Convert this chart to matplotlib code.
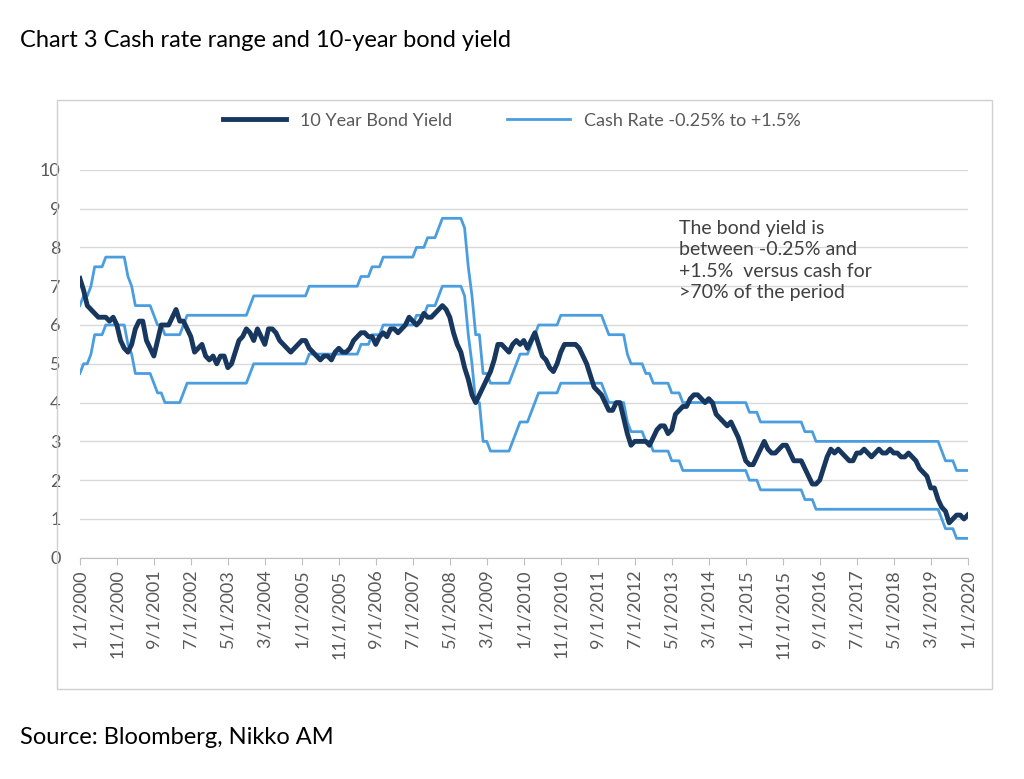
import numpy as np
import pandas as pd
import matplotlib.pyplot as plt
from matplotlib.patches import Rectangle

plt.rcParams['font.family'] = ['Lato', 'DejaVu Sans']

# RBA cash rate: date of change -> new level (%)
cash_dates = ["2000-01-01", "2000-02-01", "2000-04-01", "2000-05-01", "2000-08-01",
              "2001-02-01", "2001-03-01", "2001-04-01", "2001-09-01", "2001-10-01", "2001-12-01",
              "2002-05-01", "2002-06-01", "2003-11-01", "2003-12-01", "2005-03-01",
              "2006-05-01", "2006-08-01", "2006-11-01", "2007-08-01", "2007-11-01",
              "2008-02-01", "2008-03-01", "2008-09-01", "2008-10-01", "2008-11-01", "2008-12-01",
              "2009-02-01", "2009-04-01", "2009-10-01", "2009-11-01", "2009-12-01",
              "2010-03-01", "2010-04-01", "2010-05-01", "2010-11-01", "2011-11-01", "2011-12-01",
              "2012-05-01", "2012-06-01", "2012-10-01", "2012-12-01", "2013-05-01", "2013-08-01",
              "2015-02-01", "2015-05-01", "2016-05-01", "2016-08-01", "2019-06-01",
              "2019-07-01", "2019-10-01"]
cash_levels = [5.0, 5.25, 5.5, 6.0, 6.25,
               5.75, 5.5, 5.0, 4.75, 4.5, 4.25,
               4.5, 4.75, 5.0, 5.25, 5.5,
               5.75, 6.0, 6.25, 6.5, 6.75,
               7.0, 7.25, 7.0, 6.0, 5.25, 4.25,
               3.25, 3.0, 3.25, 3.5, 3.75,
               4.0, 4.25, 4.5, 4.75, 4.5, 4.25,
               3.75, 3.5, 3.25, 3.0, 2.75, 2.5,
               2.25, 2.0, 1.75, 1.5, 1.25,
               1.0, 0.75]

# 10 year bond yield, monthly Jan 2000 - Jan 2020
bond_yield = [
    7.2, 6.9, 6.5, 6.4, 6.3, 6.2, 6.2, 6.2, 6.1, 6.2, 6.0, 5.6,
    5.4, 5.3, 5.5, 5.9, 6.1, 6.1, 5.6, 5.4, 5.2, 5.6, 6.0, 6.0,
    6.0, 6.2, 6.4, 6.1, 6.1, 5.9, 5.7, 5.3, 5.4, 5.5, 5.2, 5.1,
    5.2, 5.0, 5.2, 5.2, 4.9, 5.0, 5.3, 5.6, 5.7, 5.9, 5.8, 5.6,
    5.9, 5.7, 5.5, 5.9, 5.9, 5.8, 5.6, 5.5, 5.4, 5.3, 5.4, 5.5,
    5.6, 5.6, 5.4, 5.3, 5.2, 5.1, 5.2, 5.2, 5.1, 5.3, 5.4, 5.3,
    5.3, 5.4, 5.6, 5.7, 5.8, 5.8, 5.7, 5.7, 5.5, 5.7, 5.8, 5.7,
    5.9, 5.9, 5.8, 5.9, 6.0, 6.2, 6.1, 6.0, 6.1, 6.3, 6.2, 6.2,
    6.3, 6.4, 6.5, 6.4, 6.2, 5.8, 5.5, 5.3, 4.9, 4.6, 4.2, 4.0,
    4.2, 4.4, 4.6, 4.8, 5.1, 5.5, 5.5, 5.4, 5.3, 5.5, 5.6, 5.5,
    5.6, 5.4, 5.6, 5.8, 5.5, 5.2, 5.1, 4.9, 4.8, 5.0, 5.3, 5.5,
    5.5, 5.5, 5.5, 5.4, 5.2, 5.0, 4.7, 4.4, 4.3, 4.2, 4.0, 3.8,
    3.8, 4.0, 4.0, 3.6, 3.2, 2.9, 3.0, 3.0, 3.0, 3.0, 2.9, 3.1,
    3.3, 3.4, 3.4, 3.2, 3.3, 3.7, 3.8, 3.9, 3.9, 4.1, 4.2, 4.2,
    4.1, 4.0, 4.1, 4.0, 3.7, 3.6, 3.5, 3.4, 3.5, 3.3, 3.1, 2.8,
    2.5, 2.4, 2.4, 2.6, 2.8, 3.0, 2.8, 2.7, 2.7, 2.8, 2.9, 2.9,
    2.7, 2.5, 2.5, 2.5, 2.3, 2.1, 1.9, 1.9, 2.0, 2.3, 2.6, 2.8,
    2.7, 2.8, 2.7, 2.6, 2.5, 2.5, 2.7, 2.7, 2.8, 2.7, 2.6, 2.7,
    2.8, 2.7, 2.7, 2.8, 2.7, 2.7, 2.6, 2.6, 2.7, 2.6, 2.5, 2.3,
    2.2, 2.1, 1.8, 1.8, 1.5, 1.3, 1.2, 0.9, 1.0, 1.1, 1.1, 1.0,
    1.1,
]

months = pd.date_range("2000-01-01", "2020-01-01", freq="MS")
cash = pd.Series(cash_levels, index=pd.to_datetime(cash_dates)).reindex(months).ffill()
x = np.arange(len(months))
upper = cash.values + 1.5
lower = cash.values - 0.25

tick_idx = x[::10]
tick_labels = [f"{d.month}/1/{d.year}" for d in months[::10]]

fig = plt.figure(figsize=(10.24, 7.79), dpi=100)
ax = fig.add_axes([0.078, 0.284, 0.867, 0.498])

navy = "#17375E"
light = "#4A9EE0"
ax.plot(x, bond_yield, color=navy, lw=3.5, label="10 Year Bond Yield", zorder=3)
ax.plot(x, upper, color=light, lw=2, label="Cash Rate -0.25% to +1.5%")
ax.plot(x, lower, color=light, lw=2)

ax.set_ylim(0, 10)
ax.set_xlim(0, len(x) - 1)
ax.set_yticks(range(0, 11))
ax.set_xticks(tick_idx)
ax.set_xticklabels(tick_labels, rotation=90)
ax.tick_params(axis='both', labelsize=13, colors="#595959", length=0)
ax.tick_params(axis='y', pad=14)
ax.tick_params(axis='x', length=5, color="#bfbfbf")
ax.grid(axis='y', color="#d9d9d9", lw=1)
for s in ["top", "right", "left"]:
    ax.spines[s].set_visible(False)
ax.spines["bottom"].set_color("#bfbfbf")

ax.text(0.675, 0.87, "The bond yield is\nbetween -0.25% and\n+1.5%  versus cash for\n>70% of the period",
        transform=ax.transAxes, fontsize=14, color="#404040", va="top", linespacing=1.3)

fig.legend(loc="center", bbox_to_anchor=(0.5, 0.845), ncol=2, frameon=False,
           fontsize=13, labelcolor="#595959", handlelength=3.5, columnspacing=3)

fig.patches.append(Rectangle((0.056, 0.115), 0.913, 0.757, transform=fig.transFigure,
                             fill=False, edgecolor="#d0d0d0", lw=1))
fig.text(0.02, 0.94, "Chart 3 Cash rate range and 10-year bond yield", fontsize=17, color="black")
fig.text(0.02, 0.045, "Source: Bloomberg, Nikko AM", fontsize=17, color="black")

fig.savefig("out.png", dpi=100)
